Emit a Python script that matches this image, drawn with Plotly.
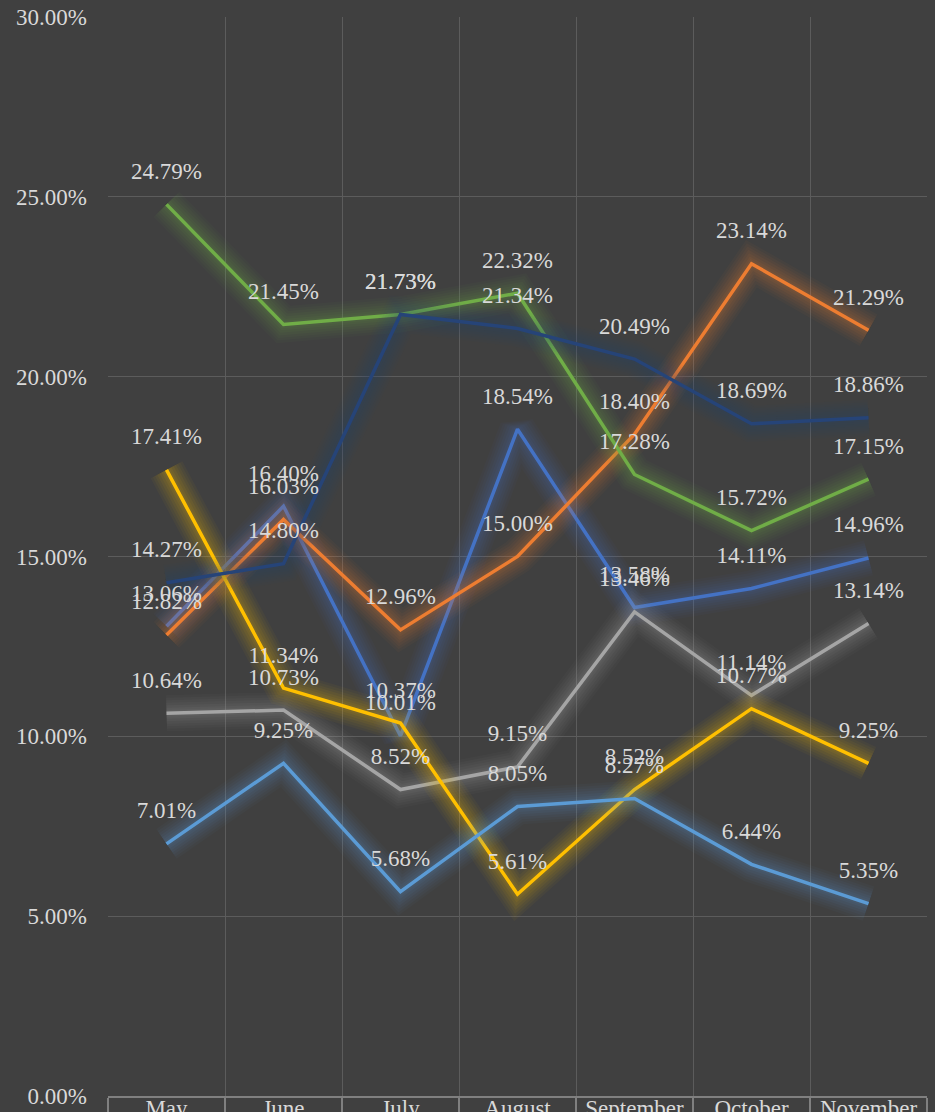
import plotly.graph_objects as go

months = ["May", "June", "July", "August", "September", "October", "November"]

blue = [13.06, 16.40, 10.01, 18.54, 13.58, 14.11, 14.96]
orange = [12.82, 16.03, 12.96, 15.00, 18.40, 23.14, 21.29]
gray = [10.64, 10.73, 8.52, 9.15, 13.46, 11.14, 13.14]
yellow = [17.41, 11.34, 10.37, 5.61, 8.52, 10.77, 9.25]
light_blue = [7.01, 9.25, 5.68, 8.05, 8.27, 6.44, 5.35]
green = [24.79, 21.45, 21.73, 22.32, 17.28, 15.72, 17.15]
dark_blue = [14.27, 14.80, 21.73, 21.34, 20.49, 18.69, 18.86]

series = [
    ("Series 1", blue, "#4472C4"),
    ("Series 2", orange, "#ED7D31"),
    ("Series 3", gray, "#A5A5A5"),
    ("Series 4", yellow, "#FFC000"),
    ("Series 5", light_blue, "#5B9BD5"),
    ("Series 6", green, "#70AD47"),
    ("Series 7", dark_blue, "#264478"),
]

FONT = "Liberation Serif, Times New Roman, DejaVu Serif, serif"
LABEL_COLOR = "#D9D9D9"

fig = go.Figure()

glow_layers = [(36, 0.035), (31, 0.04), (26, 0.045), (21, 0.05), (16, 0.055), (11, 0.06), (7, 0.06)]

for name, vals, col in series:
    ys = [v / 100 for v in vals]
    for w, op in glow_layers:
        fig.add_trace(go.Scatter(x=months, y=ys, mode="lines",
                                 line=dict(color=col, width=w),
                                 opacity=op, hoverinfo="skip", showlegend=False))
    fig.add_trace(go.Scatter(x=months, y=ys, mode="lines", name=name,
                             line=dict(color=col, width=3.5), showlegend=False))

for name, vals, col in series:
    ys = [v / 100 for v in vals]
    fig.add_trace(go.Scatter(x=months, y=ys, mode="markers+text",
                             marker=dict(size=30, opacity=0),
                             text=[f"{v:.2f}%" for v in vals],
                             textposition="top center",
                             textfont=dict(family=FONT, size=23, color=LABEL_COLOR),
                             hoverinfo="skip", showlegend=False, cliponaxis=False))

fig.update_layout(
    width=935, height=1112,
    margin=dict(l=108, r=8, t=17, b=16, autoexpand=False),
    paper_bgcolor="#404040", plot_bgcolor="#404040",
    font=dict(family=FONT, size=23, color=LABEL_COLOR),
    showlegend=False,
)
fig.update_xaxes(
    type="category", tickson="boundaries", automargin=False,
    showgrid=True, gridcolor="#5C5C5C", gridwidth=1.2,
    showline=True, linecolor="#808080", linewidth=2,
    ticks="outside", ticklen=30, tickcolor="#808080", tickwidth=1.5,
    ticklabelstandoff=-10,
    tickfont=dict(family=FONT, size=23, color=LABEL_COLOR),
    range=[-0.5, 6.5], fixedrange=True,
)
fig.update_yaxes(
    range=[0, 0.30], dtick=0.05, tickformat=".2%", automargin=False,
    showgrid=True, gridcolor="#5C5C5C", gridwidth=1.2,
    zeroline=False, showline=False,
    ticklabelstandoff=20,
    tickfont=dict(family=FONT, size=23, color=LABEL_COLOR),
)

fig.write_html(
    "out.html",
    config={"displayModeBar": False},
    post_script="document.body.style.margin='0';document.body.style.overflow='hidden';document.body.style.background='#404040';",
)
